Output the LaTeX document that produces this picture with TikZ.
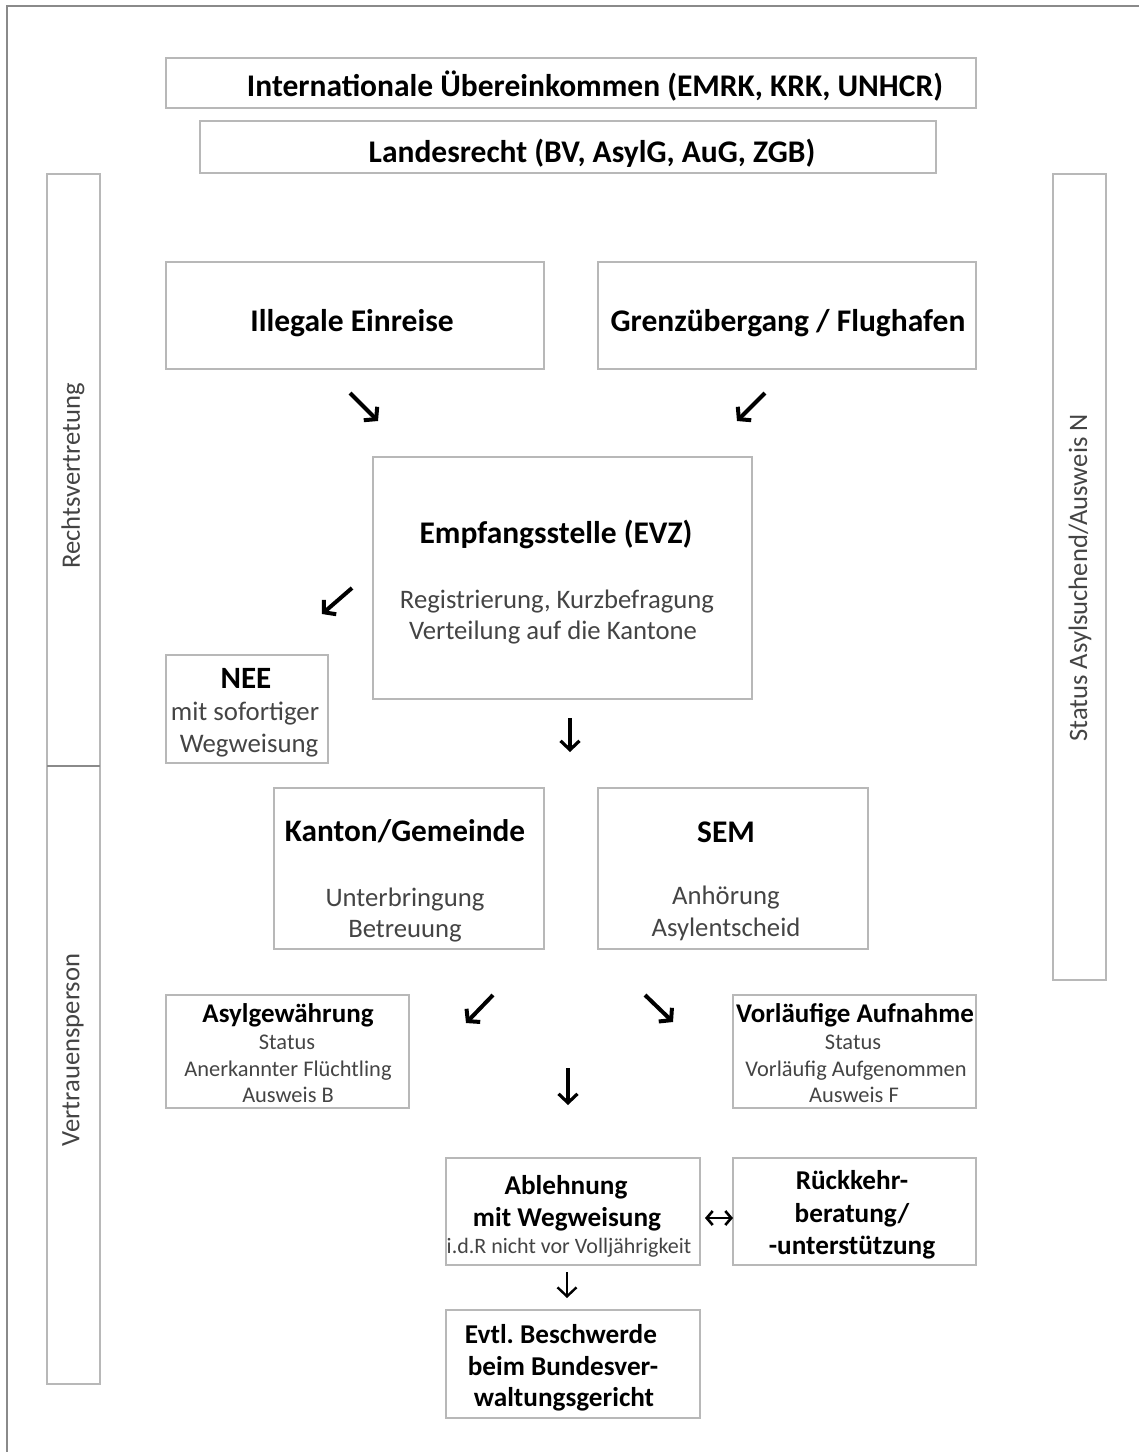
\documentclass[tikz,border=0pt]{standalone}
\usepackage{fontspec}
\setmainfont{Carlito}
\usetikzlibrary{arrows.meta}
\definecolor{boxgray}{HTML}{B8B8B8}
\definecolor{framegray}{HTML}{8A8A8A}
\definecolor{txtgray}{HTML}{444444}
\newcommand{\fsz}[1]{\fontsize{#1}{#1}\selectfont}
\frenchspacing
\begin{document}
\begin{tikzpicture}[x=1pt,y=-1pt,
  box/.style={draw=boxgray, line width=1.4pt, inner sep=0pt},
  tb/.style={inner sep=0pt, anchor=base, font=\fsz{#1}\bfseries, text=black},
  td/.style={inner sep=0pt, anchor=base, font=\fsz{#1}, text=txtgray},
  darr/.style={line width=4pt, -{Straight Barb[length=8pt,width=19pt]}},
  varr/.style={line width=3.2pt, -{Straight Barb[length=9pt,width=19pt]}},
  harr/.style={line width=2.6pt, {Straight Barb[length=6pt,width=14pt]}-{Straight Barb[length=6pt,width=14pt]}}]
\useasboundingbox (0,0) rectangle (1139,1452);
% outer frame
\draw[framegray, line width=2pt] (7,1460) -- (7,6) -- (1150,6);
% side bars
\draw[boxgray, line width=1.4pt] (47,174) rectangle (100,766);
\draw[boxgray, line width=1.4pt] (47,766) rectangle (100,1384);
\draw[framegray, line width=1.6pt] (47,766) -- (100,766);
\draw[boxgray, line width=1.4pt] (1053,174) rectangle (1106,980);
\node[td=26.6, anchor=center, rotate=90] (rv) at (73,476) {Rechtsvertretung};
\node[td=26.6, anchor=center, rotate=90] (vp) at (73,1050) {Vertrauensperson};
\node[td=26.6, anchor=center, rotate=90] (st) at (1080,578) {Status Asylsuchend/Ausweis N};
% boxes
\node[box, minimum width=810pt, minimum height=50pt] (intl) at (571,83) {};
\node[box, minimum width=736pt, minimum height=52pt] (land) at (568,147) {};
\node[box, minimum width=378pt, minimum height=107pt] (ill) at (355,315.5) {};
\node[box, minimum width=378pt, minimum height=107pt] (grenz) at (787,315.5) {};
\node[box, minimum width=379pt, minimum height=242pt] (evz) at (562.5,578) {};
\node[box, minimum width=162pt, minimum height=108pt] (nee) at (247,709) {};
\node[box, minimum width=270pt, minimum height=161pt] (kanton) at (409,868.5) {};
\node[box, minimum width=270pt, minimum height=161pt] (sem) at (733,868.5) {};
\node[box, minimum width=243pt, minimum height=113pt] (asyl) at (287.5,1051.5) {};
\node[box, minimum width=243pt, minimum height=113pt] (vorl) at (854.5,1051.5) {};
\node[box, minimum width=254pt, minimum height=107pt] (abl) at (573,1211.5) {};
\node[box, minimum width=243pt, minimum height=107pt] (rueck) at (854.5,1211.5) {};
\node[box, minimum width=254pt, minimum height=108pt] (evtl) at (573,1364) {};
% texts
\node[tb=31.5] (t1) at (595,96) {Internationale Übereinkommen (EMRK, KRK, UNHCR)};
\node[tb=31.5] (t2) at (592,162) {Landesrecht (BV, AsylG, AuG, ZGB)};
\node[tb=31.5] (t3) at (352,331) {Illegale Einreise};
\node[tb=31.5] (t4) at (788,331) {Grenzübergang / Flughafen};
\node[tb=31.5] (t5) at (556,543) {Empfangsstelle (EVZ)};
\node[td=26.7] (t6) at (557,608.5) {Registrierung, Kurzbefragung};
\node[td=26.7] (t7) at (553,639.5) {Verteilung auf die Kantone};
\node[tb=31] (t8) at (246,688) {NEE};
\node[td=26.8] (t9) at (245,720.6) {mit sofortiger};
\node[td=26.8] (t10) at (249,752.6) {Wegweisung};
\node[tb=31.3] (t11) at (405,841) {Kanton/Gemeinde};
\node[td=26.7] (t12) at (405,906.5) {Unterbringung};
\node[td=26.7] (t13) at (405,937.5) {Betreuung};
\node[tb=31.5] (t14) at (726,842) {SEM};
\node[td=26.7] (t15) at (726,904.5) {Anhörung};
\node[td=26.7] (t16) at (726,936.5) {Asylentscheid};
\node[tb=27] (t17) at (288,1022.6) {Asylgewährung};
\node[td=22.4] (t18) at (287,1049) {Status};
\node[td=22.4] (t19) at (288,1076) {Anerkannter Flüchtling};
\node[td=22.4] (t20) at (288,1102) {Ausweis B};
\node[tb=27] (t21) at (855,1022.6) {Vorläufige Aufnahme};
\node[td=22.4] (t22) at (853,1049) {Status};
\node[td=22.4] (t23) at (856,1076) {Vorläufig Aufgenommen};
\node[td=22.4] (t24) at (854,1102) {Ausweis F};
\node[tb=27.2] (t25) at (566,1194.6) {Ablehnung};
\node[tb=27.2] (t26) at (567,1226.6) {mit Wegweisung};
\node[td=22] (t27) at (569,1253) {i.d.R nicht vor Volljährigkeit};
\node[tb=27.2] (t28) at (852,1189.6) {Rückkehr-};
\node[tb=27.2] (t29) at (852,1222.6) {beratung/};
\node[tb=27.2] (t30) at (852,1254.6) {-unterstützung};
\node[tb=27.2] (t31) at (561,1343.6) {Evtl. Beschwerde};
\node[tb=27.2] (t32) at (563,1375.6) {beim Bundesver-};
\node[tb=27.2] (t33) at (564,1406.6) {waltungsgericht};
% arrows
\coordinate (a1s) at (350,393); \coordinate (a1e) at (378,421);
\coordinate (a2s) at (765,393); \coordinate (a2e) at (737,421);
\coordinate (a3s) at (352,588); \coordinate (a3e) at (322,614);
\coordinate (a4s) at (570,718); \coordinate (a4e) at (570,752);
\coordinate (a5s) at (493,995); \coordinate (a5e) at (466,1023);
\coordinate (a6s) at (645,995); \coordinate (a6e) at (673,1022);
\coordinate (a7s) at (568,1068); \coordinate (a7e) at (568,1105);
\coordinate (a8s) at (705,1218); \coordinate (a8e) at (733,1218);
\coordinate (a9s) at (567,1272); \coordinate (a9e) at (567,1298);
\draw[darr] (a1s) -- (a1e);
\draw[darr] (a2s) -- (a2e);
\draw[darr] (a3s) -- (a3e);
\draw[varr] (a4s) -- (a4e);
\draw[darr] (a5s) -- (a5e);
\draw[darr] (a6s) -- (a6e);
\draw[varr] (a7s) -- (a7e);
\draw[harr] (a8s) -- (a8e);
\draw[varr, line width=2.4pt] (a9s) -- (a9e);
\end{tikzpicture}
\end{document}
